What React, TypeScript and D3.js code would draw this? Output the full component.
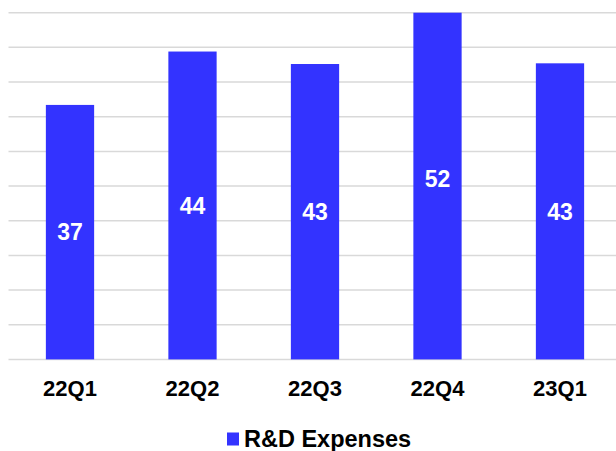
import React from "react";
import * as d3 from "d3";

const categories = ["22Q1", "22Q2", "22Q3", "22Q4", "23Q1"];
const rdValues = [36.7, 44.4, 42.6, 52.1, 42.7];
const yTicks = [0, 5, 10, 15, 20, 25, 30, 35, 40, 45, 50];
const seriesName = "R&D Expenses";

const W = 616;
const H = 451;
const BAR = "#3333ff";
const GRID = "#d9d9d9";
const FONT = "'Liberation Sans', Arial, sans-serif";

export default function App() {
  const x = d3
    .scaleBand<string>()
    .domain(categories)
    .range([8.75, 621.25])
    .paddingInner(0.606)
    .paddingOuter(0.303);
  const y = d3.scaleLinear().domain([0, 50]).range([359.4, 12.7]);
  const fmt = d3.format(".0f");

  return (
    <div style={{ position: "fixed", left: 0, top: 0 }}>
      <svg width={W} height={H} style={{ display: "block", background: "#fff" }}>
        {yTicks.map((t) => (
          <line
            key={t}
            x1={8.5}
            x2={W}
            y1={y(t)}
            y2={y(t)}
            stroke={GRID}
            strokeWidth={1.5}
          />
        ))}
        {categories.map((c, i) => {
          const v = rdValues[i];
          const top = y(Math.min(v, 50));
          return (
            <rect
              key={c}
              x={x(c)}
              y={top}
              width={x.bandwidth()}
              height={y(0) - top}
              fill={BAR}
            />
          );
        })}
        {categories.map((c, i) => {
          const v = rdValues[i];
          const cy = (y(0) + y(v)) / 2;
          return (
            <text
              key={c}
              x={(x(c) as number) + x.bandwidth() / 2}
              y={cy}
              dy="0.36em"
              textAnchor="middle"
              fill="#fff"
              fontFamily={FONT}
              fontWeight="bold"
              fontSize={23}
            >
              {fmt(v)}
            </text>
          );
        })}
        {categories.map((c) => (
          <text
            key={c}
            x={(x(c) as number) + x.bandwidth() / 2}
            y={395.5}
            textAnchor="middle"
            fill="#000"
            fontFamily={FONT}
            fontWeight="bold"
            fontSize={22}
          >
            {c}
          </text>
        ))}
        <g>
          <rect x={227} y={432.5} width={12} height={13} fill={BAR} />
          <text
            x={244}
            y={447}
            fill="#000"
            fontFamily={FONT}
            fontWeight="bold"
            fontSize={23.5}
          >
            {seriesName}
          </text>
        </g>
      </svg>
    </div>
  );
}
